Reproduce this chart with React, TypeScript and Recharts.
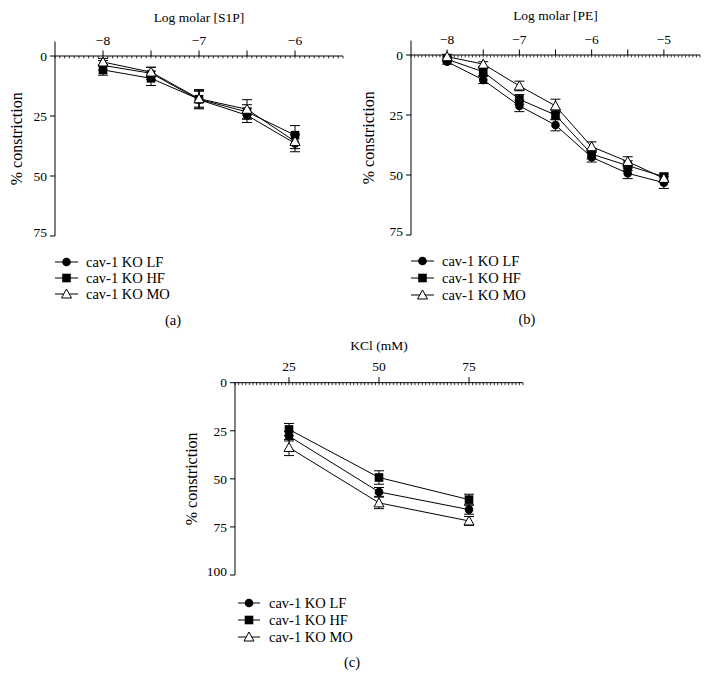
import React from 'react';
import { LineChart, Line, XAxis, YAxis, ErrorBar, ReferenceLine, Label } from 'recharts';

const FONT = '"Liberation Serif", "Times New Roman", serif';

// (a) S1P dose response
const s1pDose = [-8, -7.5, -7, -6.5, -6];
const s1pLF = [3.9, 7.2, 18.2, 24.7, 36.4];
const s1pLFErr = [2, 2.5, 3.5, 3, 3.5];
const s1pHF = [5.8, 9.3, 18, 23.3, 33];
const s1pHFErr = [2.2, 3, 4, 3, 4];
const s1pMO = [2.5, 6.7, 17.8, 22.2, 35.6];
const s1pMOErr = [1.5, 2, 3.5, 4, 3];

// (b) PE dose response
const peDose = [-8, -7.5, -7, -6.5, -6, -5.5, -5];
const peLF = [2.8, 10.4, 21.2, 29.2, 42.6, 49.3, 53.2];
const peLFErr = [1, 1.5, 2.4, 2.4, 2, 2.2, 2.4];
const peHF = [1.8, 7, 18.5, 25, 41.3, 46.1, 50.7];
const peHFErr = [1, 1.5, 2, 2, 2, 2, 1.5];
const peMO = [0.7, 3.8, 12.9, 21.2, 38.2, 44.4, 51.4];
const peMOErr = [1, 1, 2, 2.8, 2, 2, 1.5];

// (c) KCl
const kclDose = [25, 50, 75];
const kclLF = [27.8, 56.8, 66];
const kclLFErr = [2.5, 2.3, 2.4];
const kclHF = [24.3, 49.3, 60.8];
const kclHFErr = [3.1, 3.5, 2.8];
const kclMO = [33.7, 62.5, 71.9];
const kclMOErr = [4.2, 3, 2.3];

const seriesNames = ['cav-1 KO LF', 'cav-1 KO HF', 'cav-1 KO MO'];
const seriesKeys = ['lf', 'hf', 'mo'];
const seriesShapes = ['circle', 'square', 'triangle'];

const buildRows = (dose: number[], lf: number[], lfE: number[], hf: number[], hfE: number[], mo: number[], moE: number[]) =>
  dose.map((x, i) => ({ x, lf: lf[i], lfErr: lfE[i], hf: hf[i], hfErr: hfE[i], mo: mo[i], moErr: moE[i] }));

const Marker = ({ shape, cx, cy }: { shape: string; cx: number; cy: number }) => {
  if (shape === 'circle') return <circle cx={cx} cy={cy} r={4.3} fill="#000" />;
  if (shape === 'square') return <rect x={cx - 4.3} y={cy - 4.3} width={8.6} height={8.6} fill="#000" />;
  return (
    <path
      d={`M${cx},${cy - 5} L${cx + 5},${cy + 4} L${cx - 5},${cy + 4} Z`}
      fill="#fff"
      stroke="#000"
      strokeWidth={1}
    />
  );
};

const range = (start: number, end: number, step: number) => {
  const out: number[] = [];
  for (let v = start; v <= end + 1e-9; v += step) out.push(Math.round(v * 1000) / 1000);
  return out;
};

const fmt = (v: number) => (v < 0 ? '\u2212' + Math.abs(v) : String(v));

const txt = (size: number) => ({ fontFamily: FONT, fontSize: size });

type PanelProps = {
  left: number;
  top: number;
  width: number;
  height: number;
  axisHeight: number;
  rows: any[];
  xDomain: [number, number];
  yDomain: [number, number];
  yTicks: number[];
  labelTicks: number[];
  majorTicks: number[];
  minorStep: number;
  majorLen: number;
  minorLen: number;
  tickDy: number;
  title: string;
  titleOffset: number;
  yLabelOffset: number;
};

const Panel = (p: PanelProps) => {
  const minor = range(p.xDomain[0], p.xDomain[1], p.minorStep);
  return (
    <div style={{ position: 'absolute', left: p.left, top: p.top }}>
      <LineChart width={p.width} height={p.height} data={p.rows} margin={{ top: 0, right: 7, bottom: 4, left: 0 }}>
        <XAxis
          type="number"
          dataKey="x"
          orientation="top"
          domain={p.xDomain}
          ticks={p.labelTicks}
          interval={0}
          allowDataOverflow
          height={p.axisHeight}
          axisLine={false}
          tickLine={false}
          tickSize={0}
          tickMargin={0}
          tick={(t: any) => (
            <text x={t.x} y={t.y + p.tickDy} textAnchor="middle" fill="#000" style={txt(13.5)}>
              {fmt(t.payload.value)}
            </text>
          )}
        >
          <Label value={p.title} position="insideTop" offset={p.titleOffset} fill="#000" style={txt(13.5)} />
        </XAxis>
        <YAxis
          type="number"
          domain={p.yDomain}
          ticks={p.yTicks}
          reversed
          allowDataOverflow
          width={55}
          tickSize={5}
          tickMargin={3}
          axisLine={{ stroke: '#000' }}
          tickLine={{ stroke: '#000' }}
          tick={{ fill: '#000', style: txt(13.5) }}
        >
          <Label
            value="% constriction"
            angle={-90}
            position="insideLeft"
            offset={p.yLabelOffset}
            fill="#000"
            style={{ ...txt(16), textAnchor: 'middle' }}
          />
        </YAxis>
        <ReferenceLine y={0} stroke="#000" strokeWidth={1} ifOverflow="visible" />
        {minor.map((v) => (
          <ReferenceLine
            key={`mn-${v}`}
            segment={[{ x: v, y: 0 }, { x: v, y: p.minorLen }]}
            stroke="#000"
            strokeWidth={0.8}
            ifOverflow="visible"
          />
        ))}
        {p.majorTicks.map((v) => (
          <ReferenceLine
            key={`mj-${v}`}
            segment={[{ x: v, y: 0 }, { x: v, y: -p.majorLen }]}
            stroke="#000"
            strokeWidth={1}
            ifOverflow="visible"
          />
        ))}
        {seriesKeys.map((k, si) => (
          <Line
            key={k}
            dataKey={k}
            name={seriesNames[si]}
            type="linear"
            stroke="#000"
            strokeWidth={1}
            isAnimationActive={false}
            dot={(d: any) => <Marker key={`${k}-${d.index}`} shape={seriesShapes[si]} cx={d.cx} cy={d.cy} />}
            activeDot={false}
          >
            <ErrorBar dataKey={`${k}Err`} direction="y" width={5} stroke="#000" strokeWidth={1} />
          </Line>
        ))}
      </LineChart>
    </div>
  );
};

const legendRows = (x1: number, x2: number, tx: number, ys: number[]) =>
  ys.map((y, i) => {
    const cx = (x1 + x2) / 2;
    return (
      <g key={`${x1}-${i}`}>
        <line x1={x1} x2={x2} y1={y} y2={y} stroke="#000" strokeWidth={1} />
        <Marker shape={seriesShapes[i]} cx={cx} cy={y} />
        <text x={tx} y={y} dominantBaseline="central" fill="#000" style={txt(14.5)}>
          {seriesNames[i]}
        </text>
      </g>
    );
  });

export default function App() {
  return (
    <div style={{ position: 'absolute', left: 0, top: 0, width: 708, height: 688, background: '#fff' }}>
      <Panel
        left={0}
        top={0}
        width={350}
        height={240}
        axisHeight={41.6}
        rows={buildRows(s1pDose, s1pLF, s1pLFErr, s1pHF, s1pHFErr, s1pMO, s1pMOErr)}
        xDomain={[-8.5, -5.5]}
        yDomain={[-6, 75]}
        yTicks={[0, 25, 50, 75]}
        labelTicks={[-8, -7, -6]}
        majorTicks={[-8, -7.5, -7, -6.5, -6]}
        minorStep={0.05}
        majorLen={2.3}
        minorLen={1}
        tickDy={3.4}
        title="Log molar [S1P]"
        titleOffset={12.5}
        yLabelOffset={16}
      />
      <Panel
        left={356}
        top={0}
        width={351}
        height={239}
        axisHeight={40.6}
        rows={buildRows(peDose, peLF, peLFErr, peHF, peHFErr, peMO, peMOErr)}
        xDomain={[-8.5, -4.5]}
        yDomain={[-6, 75]}
        yTicks={[0, 25, 50, 75]}
        labelTicks={[-8, -7, -6, -5]}
        majorTicks={[-8, -7.5, -7, -6.5, -6, -5.5, -5]}
        minorStep={0.05}
        majorLen={2.3}
        minorLen={1}
        tickDy={3}
        title="Log molar [PE]"
        titleOffset={10}
        yLabelOffset={12}
      />
      <Panel
        left={180}
        top={335}
        width={350}
        height={244}
        axisHeight={47.7}
        rows={buildRows(kclDose, kclLF, kclLFErr, kclHF, kclHFErr, kclMO, kclMOErr)}
        xDomain={[10, 90]}
        yDomain={[0, 100]}
        yTicks={[0, 25, 50, 75, 100]}
        labelTicks={[25, 50, 75]}
        majorTicks={[25, 50, 75]}
        minorStep={1}
        majorLen={2.9}
        minorLen={1.3}
        tickDy={-12}
        title="KCl (mM)"
        titleOffset={5.5}
        yLabelOffset={11}
      />
      <svg style={{ position: 'absolute', left: 0, top: 0 }} width={708} height={688} pointerEvents="none">
        {legendRows(55, 78, 86, [262, 278, 294])}
        {legendRows(411, 434, 442, [261, 278, 295])}
        {legendRows(238, 260, 269, [603, 620, 637])}
        <text x={173} y={320} textAnchor="middle" dominantBaseline="central" fill="#000" style={txt(14.5)}>(a)</text>
        <text x={527} y={319} textAnchor="middle" dominantBaseline="central" fill="#000" style={txt(14.5)}>(b)</text>
        <text x={352} y={662} textAnchor="middle" dominantBaseline="central" fill="#000" style={txt(14.5)}>(c)</text>
      </svg>
    </div>
  );
}
